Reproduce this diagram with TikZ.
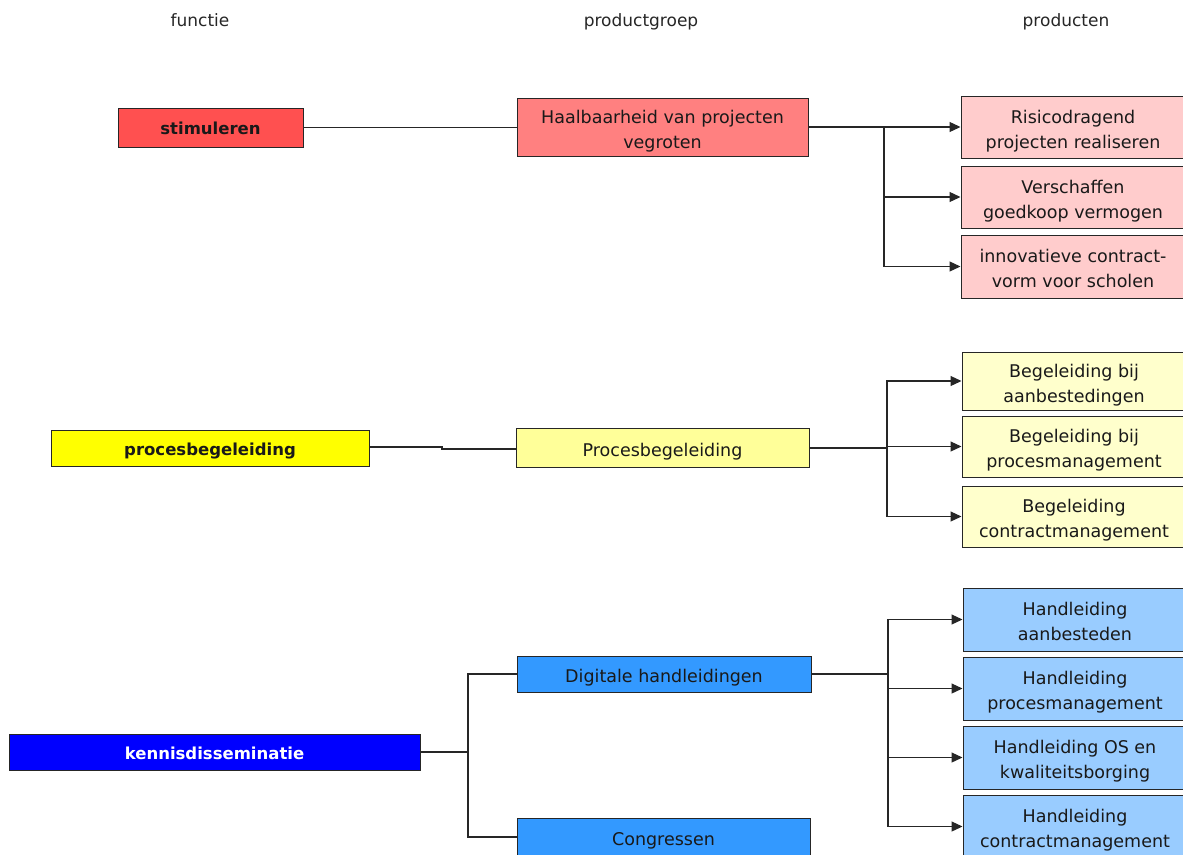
\documentclass[tikz,border=0pt]{standalone}
\usepackage{fontspec}
\setmainfont{DejaVu Sans}
\usetikzlibrary{arrows.meta}
\definecolor{cStim}{HTML}{FF5050}
\definecolor{cHaal}{HTML}{FF8080}
\definecolor{cRprod}{HTML}{FFCCCC}
\definecolor{cProc}{HTML}{FFFF00}
\definecolor{cProc2}{HTML}{FFFF99}
\definecolor{cYprod}{HTML}{FFFFCC}
\definecolor{cKen}{HTML}{0000FF}
\definecolor{cDig}{HTML}{3399FF}
\definecolor{cBprod}{HTML}{99CCFF}
\newcommand\bxtop{\rule{0pt}{22pt}}
\newcommand\bxbot{\rule[-5pt]{0pt}{5pt}}
\tikzset{
  box/.style={draw=black!85, line width=1pt, inner sep=0pt, align=center,
    font=\fontsize{17.5}{25}\selectfont, text=black!90},
  fbox/.style={draw=black!85, line width=1pt, inner sep=0pt, align=center,
    font=\fontsize{16.5}{20}\bfseries\selectfont, text=black!90},
  hdr/.style={inner sep=0pt, anchor=base, font=\fontsize{17}{20}\selectfont, text=black!85},
  conn/.style={draw=black!85, line width=1.2pt},
  arr/.style={conn, -{Triangle[length=11pt,width=10pt]}},
}
\begin{document}
\begin{tikzpicture}[x=1pt,y=-1pt]
\useasboundingbox (0,0) rectangle (1183,854);
% headers
\node[hdr] (h1) at (200,26) {functie};
\node[hdr] (h2) at (641,26) {productgroep};
\node[hdr] (h3) at (1066,26) {producten};
% functie column
\node[fbox, fill=cStim, minimum width=185pt, minimum height=39pt] (S) at (210.5,127.5) {\rule{0pt}{19pt}stimuleren\bxbot};
\node[fbox, fill=cProc, minimum width=318pt, minimum height=36pt] (P1) at (210,448) {\rule{0pt}{19pt}procesbegeleiding\bxbot};
\node[fbox, fill=cKen, text=white, minimum width=411pt, minimum height=36pt] (K) at (214.5,752) {\rule{0pt}{19pt}kennisdisseminatie\bxbot};
% productgroep column
\node[box, fill=cHaal, minimum width=291pt, minimum height=58pt] (H) at (662.5,127) {\bxtop Haalbaarheid van projecten\\vegroten\bxbot};
\node[box, fill=cProc2, minimum width=293pt, minimum height=39pt] (P2) at (662.5,447.5) {\bxtop Procesbegeleiding\bxbot};
\node[box, fill=cDig, minimum width=294pt, minimum height=36pt] (D) at (664,674) {\bxtop Digitale handleidingen\bxbot};
\node[box, fill=cDig, minimum width=293pt, minimum height=38pt] (C) at (663.5,837) {\bxtop Congressen\bxbot};
% producten
\node[box, fill=cRprod, minimum width=224pt, minimum height=62pt] (R1) at (1073,127) {\bxtop Risicodragend\\projecten realiseren\bxbot};
\node[box, fill=cRprod, minimum width=224pt, minimum height=62pt] (R2) at (1073,197) {\bxtop Verschaffen\\goedkoop vermogen\bxbot};
\node[box, fill=cRprod, minimum width=224pt, minimum height=63pt] (R3) at (1073,266.5) {\bxtop innovatieve contract-\\vorm voor scholen\bxbot};
\node[box, fill=cYprod, minimum width=224pt, minimum height=58pt] (Y1) at (1074,381) {\bxtop Begeleiding bij\\aanbestedingen\bxbot};
\node[box, fill=cYprod, minimum width=224pt, minimum height=61pt] (Y2) at (1074,446.5) {\bxtop Begeleiding bij\\procesmanagement\bxbot};
\node[box, fill=cYprod, minimum width=224pt, minimum height=61pt] (Y3) at (1074,516.5) {\bxtop Begeleiding\\contractmanagement\bxbot};
\node[box, fill=cBprod, minimum width=224pt, minimum height=63pt] (B1) at (1075,619.5) {\bxtop Handleiding\\aanbesteden\bxbot};
\node[box, fill=cBprod, minimum width=224pt, minimum height=63pt] (B2) at (1075,688.5) {\bxtop Handleiding\\procesmanagement\bxbot};
\node[box, fill=cBprod, minimum width=224pt, minimum height=63pt] (B3) at (1075,757.5) {\bxtop Handleiding OS en\\kwaliteitsborging\bxbot};
\node[box, fill=cBprod, minimum width=224pt, minimum height=63pt] (B4) at (1075,826.5) {\bxtop Handleiding\\contractmanagement\bxbot};
% connectors: stimuleren
\draw[conn] (S.east) -- (S.east -| H.west);
\coordinate (hb) at (884,127);
\draw[conn] (H.east) -- (hb);
\draw[arr] (hb) -- (R1.west);
\draw[arr] (hb) |- (R2.west);
\draw[arr] (hb) |- (R3.west);
% procesbegeleiding
\coordinate (j1) at (442,447);
\coordinate (j2) at (442,449);
\draw[conn] (P1.east |- j1) -- (j1) -- (j2) -- (j2 -| P2.west);
\coordinate (pb) at (887,448);
\draw[conn] (P2.east |- pb) -- (pb);
\draw[arr] (pb) |- (Y1.west);
\draw[arr] (pb) |- (Y2.west);
\draw[arr] (pb) |- (Y3.west);
% kennisdisseminatie
\coordinate (kb) at (468,752);
\draw[conn] (K.east) -- (kb);
\draw[conn] (kb) |- (D.west);
\draw[conn] (kb) |- (C.west);
\coordinate (db) at (888,674);
\draw[conn] (D.east) -- (db);
\draw[arr] (db) |- (B1.west);
\draw[arr] (db) |- (B2.west);
\draw[arr] (db) |- (B3.west);
\draw[arr] (db) |- (B4.west);
\end{tikzpicture}
\end{document}
